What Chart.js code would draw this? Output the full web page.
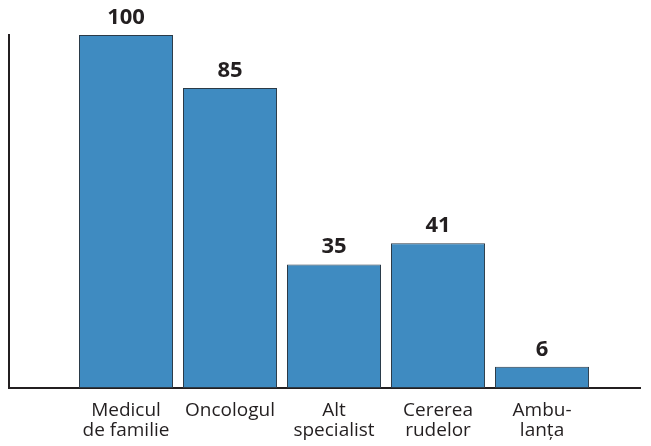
<!DOCTYPE html>
<html>
<head>
<meta charset="utf-8">
<script src="https://cdn.jsdelivr.net/npm/chart.js@4/dist/chart.umd.min.js"></script>
<style>
html,body{margin:0;padding:0;background:#fff;}
#wrap{width:651px;height:446px;}
</style>
</head>
<body>
<div id="wrap"><canvas id="c" width="651" height="446"></canvas></div>
<script>
const categories = [["Medicul","de familie"],["Oncologul"],["Alt","specialist"],["Cererea","rudelor"],["Ambu-","lanța"]];
const values = [100, 85, 35, 41, 6];

const barColor = '#3f8bc1';
const inkColor = '#231f20';

const labelPlugin = {
  id: 'valueLabels',
  afterDatasetsDraw(chart) {
    const ctx = chart.ctx;
    const meta = chart.getDatasetMeta(0);
    ctx.save();
    ctx.font = 'bold 22px "Open Sans", sans-serif';
    ctx.fillStyle = inkColor;
    ctx.textAlign = 'center';
    ctx.textBaseline = 'alphabetic';
    meta.data.forEach((el, i) => {
      ctx.fillText(String(values[i]), el.x, el.y - 11);
    });
    ctx.restore();
  }
};

new Chart(document.getElementById('c'), {
  type: 'bar',
  data: {
    datasets: [{
      data: values.map((v, i) => ({x: i, y: v})),
      backgroundColor: barColor,
      borderColor: '#2b3a47',
      borderWidth: 1,
      borderSkipped: false,
      barPercentage: 1,
      categoryPercentage: 0.904
    }]
  },
  options: {
    responsive: false,
    animation: false,
    layout: {padding: {top: 35, left: 9, right: 11, bottom: 0}},
    plugins: {legend: {display: false}, tooltip: {enabled: false}},
    scales: {
      x: {
        type: 'linear',
        offset: false,
        min: -1.125,
        max: 4.942,
        grid: {display: false, drawTicks: false, offset: false},
        border: {display: true, color: inkColor, width: 2},
        afterBuildTicks(scale) {
          scale.ticks = categories.map((c, i) => ({value: i}));
        },
        afterFit(scale) {
          scale.height = 58;
        },
        ticks: {
          autoSkip: false,
          maxRotation: 0,
          padding: 13,
          color: inkColor,
          font: {family: '"Open Sans", sans-serif', size: 19, lineHeight: 1.05},
          callback: (v) => categories[v] || ''
        }
      },
      y: {
        min: 0,
        max: 100,
        grid: {display: false, drawTicks: false},
        border: {display: true, color: inkColor, width: 2},
        ticks: {display: false}
      }
    }
  },
  plugins: [labelPlugin]
});
</script>
</body>
</html>
